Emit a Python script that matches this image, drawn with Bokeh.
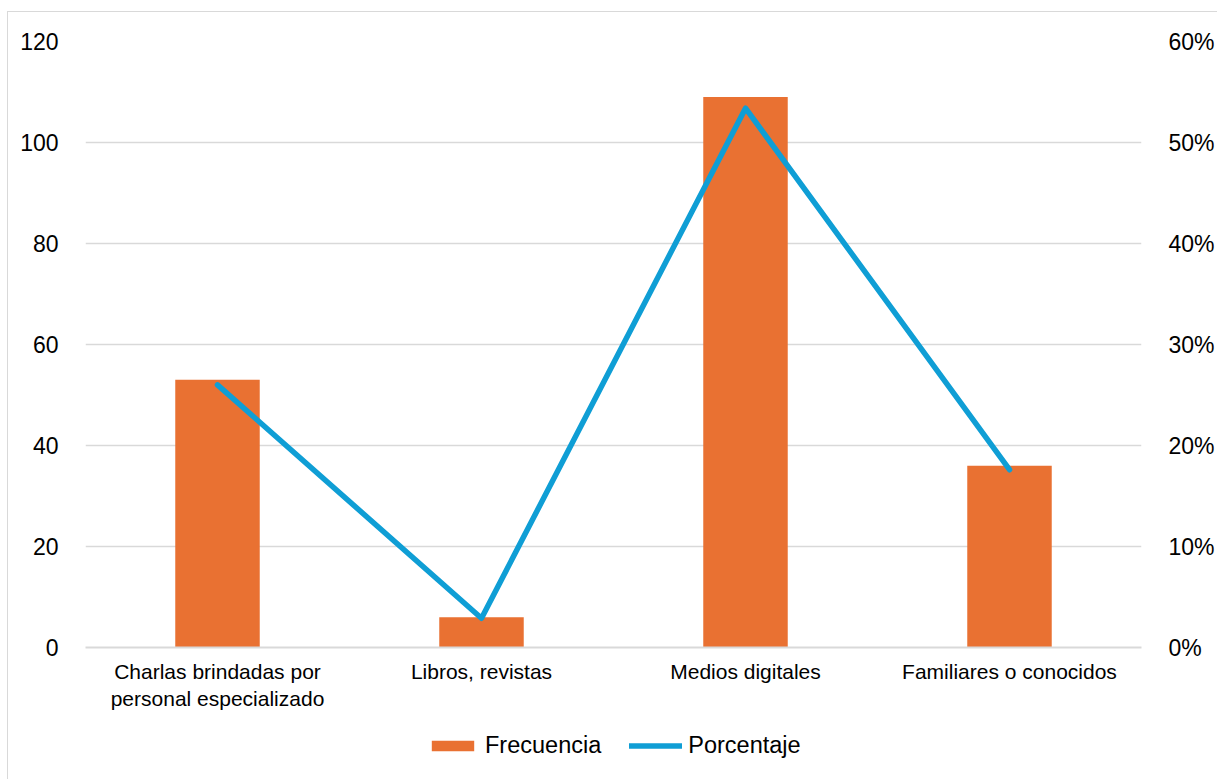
from bokeh.plotting import figure
from bokeh.layouts import column
from bokeh.models import (Range1d, LinearAxis, FixedTicker, NumeralTickFormatter,
                          Legend, LegendItem, ColumnDataSource)
from bokeh.embed import file_html
from bokeh.resources import INLINE

# Fuentes de información
categorias = ["Charlas brindadas por\npersonal especializado", "Libros, revistas",
              "Medios digitales", "Familiares o conocidos"]
frecuencia = [53, 6, 109, 36]
porcentaje = [0.260, 0.029, 0.534, 0.176]

freq_ticks = [0, 20, 40, 60, 80, 100, 120]
pct_ticks = [0.0, 0.1, 0.2, 0.3, 0.4, 0.5, 0.6]

NARANJA = "#E97132"
AZUL = "#0F9ED5"
GRIS = "#d9d9d9"
FUENTE = "Liberation Sans"

src = ColumnDataSource(dict(cat=categorias, freq=frecuencia, pct=porcentaje))


def estilo_barras(fig, **kw):
    return fig.vbar(x="cat", top="freq", width=0.32, source=src,
                    fill_color=NARANJA, line_color=None, **kw)


def estilo_linea(fig, **kw):
    return fig.line(x="cat", y="pct", source=src, line_color=AZUL, line_width=5.5,
                    line_cap="round", line_join="round", **kw)


p = figure(x_range=categorias, y_range=Range1d(0, 120),
           width=1209, height=720,
           output_backend="svg", toolbar_location=None,
           min_border_left=77, min_border_right=76, min_border_top=29,
           min_border_bottom=85)
p.outline_line_color = None
p.background_fill_color = "white"
p.border_fill_color = "white"

p.extra_y_ranges = {"pct": Range1d(0, 0.6)}

estilo_barras(p)
estilo_linea(p, y_range_name="pct")

# Eje izquierdo
p.yaxis.ticker = FixedTicker(ticks=freq_ticks)
p.yaxis.axis_line_color = None
p.yaxis.major_tick_line_color = None
p.yaxis.minor_tick_line_color = None
p.yaxis.major_label_text_font = FUENTE
p.yaxis.major_label_text_font_size = "23px"
p.yaxis.major_label_text_color = "black"
p.yaxis.major_label_standoff = 21

# Eje derecho (porcentaje)
eje_pct = LinearAxis(y_range_name="pct", ticker=FixedTicker(ticks=pct_ticks),
                     formatter=NumeralTickFormatter(format="0%"))
eje_pct.axis_line_color = None
eje_pct.major_tick_line_color = None
eje_pct.minor_tick_line_color = None
eje_pct.major_label_text_font = FUENTE
eje_pct.major_label_text_font_size = "23px"
eje_pct.major_label_text_color = "black"
eje_pct.major_label_standoff = 21
p.add_layout(eje_pct, "right")

# Eje de categorías
p.xaxis.axis_line_color = GRIS
p.xaxis.axis_line_width = 2
p.xaxis.major_tick_line_color = None
p.xaxis.minor_tick_line_color = None
p.xaxis.major_tick_out = 0
p.xaxis.major_tick_in = 0
p.xaxis.major_label_text_font = FUENTE
p.xaxis.major_label_text_font_size = "21px"
p.xaxis.major_label_text_color = "black"
p.xaxis.major_label_standoff = 12

p.xgrid.grid_line_color = None
p.ygrid.grid_line_color = GRIS
p.ygrid.grid_line_width = 1.5

# Franja inferior con la leyenda (las series quedan fuera de su rango visible)
pl = figure(width=1209, height=47, output_backend="svg", toolbar_location=None,
            x_range=p.x_range, y_range=Range1d(200, 201),
            min_border=0, outline_line_color=None)
pl.axis.visible = False
pl.grid.visible = False
pl.background_fill_color = "white"
pl.border_fill_color = "white"
g_barra = estilo_barras(pl)
g_linea = estilo_linea(pl)

leyenda = Legend(items=[LegendItem(label="Frecuencia", renderers=[g_barra]),
                        LegendItem(label="Porcentaje", renderers=[g_linea])],
                 orientation="horizontal", location=(341, 20),
                 glyph_width=53, glyph_height=13, label_standoff=6, spacing=28,
                 label_text_font=FUENTE, label_text_font_size="23.5px",
                 label_text_color="black", border_line_color=None,
                 background_fill_alpha=0, padding=0, margin=0)
pl.add_layout(leyenda, "center")

lay = column(p, pl, spacing=0)
lay.margin = (11, 0, 0, 7)
lay.styles = {"border-left": f"1px solid {GRIS}", "border-top": f"1px solid {GRIS}"}

open("out.html", "w").write(file_html(lay, INLINE))
